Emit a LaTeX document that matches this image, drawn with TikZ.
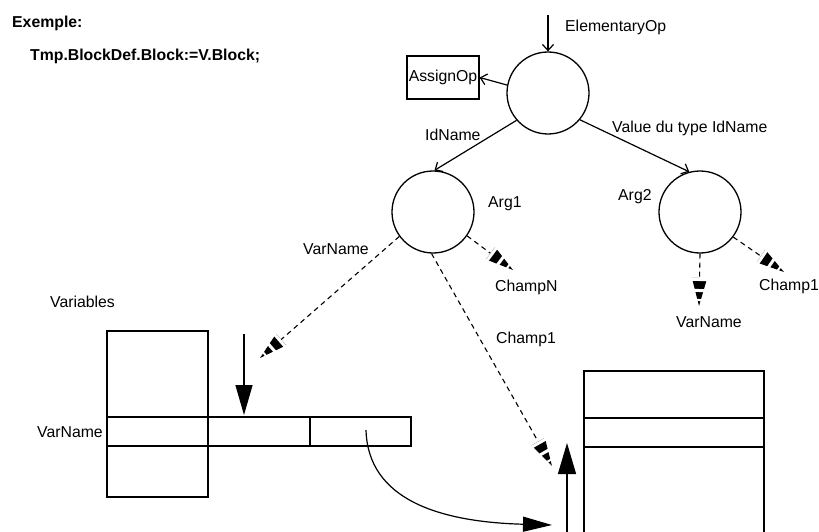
\documentclass[tikz,border=0pt]{standalone}
\usepackage{fontspec}
\setmainfont{Liberation Sans}
\usetikzlibrary{arrows.meta,calc}
\newcommand\stripetip[2]{\draw[white, line width=17pt, dash pattern=on 3pt off 8pt on 3pt off 7pt on 2pt off 12pt] ($(#2)!28pt!(#1)$) -- (#2);}
\begin{document}
\begin{tikzpicture}[x=1pt,y=-1pt,
  every node/.style={font=\fontsize{15.8}{19}\selectfont},
  lbl/.style={inner sep=0pt, anchor=base west},
  boldlbl/.style={lbl, font=\fontsize{15.8}{19}\selectfont\bfseries},
  ln/.style={line width=1.2pt},
  circ/.style={draw, circle, line width=1.3pt, minimum size=82pt, inner sep=0pt},
  smallarrow/.style={ln, -{Straight Barb[length=6pt,width=11pt,line width=1.2pt]}},
  dasharrow/.style={line width=1.1pt, dash pattern=on 5pt off 4pt, -{Triangle[length=28pt,width=15pt]}},
  bigarrow/.style={line width=1.3pt, -{Triangle[length=30pt,width=17pt]}},
  sep/.style={line width=2pt},
]
\useasboundingbox[fill=white] (0,0) rectangle (819,532);

% texts
\node[boldlbl] (ex) at (12,28) {Exemple:};
\node[boldlbl] (stmt) at (30,61) {Tmp.BlockDef.Block:=V.Block;};

% tree
\node[circ] (top) at (548,93) {};
\node[circ] (arg1) at (433,212) {};
\node[circ] (arg2) at (700,212) {};
\node[draw, ln, minimum width=72pt, minimum height=43pt, inner sep=0pt] (assign) at (443,77.5) {AssignOp};

\node[lbl] (elemlbl) at (565,32) {ElementaryOp};
\node[lbl] (idlbl) at (425,140) {IdName};
\node[lbl] (vallbl) at (612,133) {Value du type IdName};
\node[lbl] (arg1lbl) at (488,207) {Arg1};
\node[lbl] (arg2lbl) at (618,200) {Arg2};
\node[lbl] (champnlbl) at (495,291) {ChampN};
\node[lbl] (varnlbl2) at (676,327) {VarName};
\node[lbl] (champlbl2) at (759,290) {Champ1};
\node[lbl] (champlbl1) at (496,343) {Champ1};
\node[lbl] (varnlbl1) at (303,254) {VarName};
\node[lbl] (varslbl) at (50,307) {Variables};
\node[lbl] (varnlbl0) at (37,437) {VarName};

\coordinate (elemstart) at (548,15);
\draw[smallarrow] (elemstart) -- (top.north);
\draw[smallarrow] (top.169) -- (assign.east);
\draw[smallarrow] (top.221) -- (arg1.88);
\draw[smallarrow] (top.320) -- (arg2.105);

% dashed arrows
\coordinate (t1) at (260,358);
\coordinate (t2) at (513,270);
\coordinate (t3) at (552,466);
\coordinate (t4) at (699,306);
\coordinate (t5) at (784,272);
\draw[dasharrow] (arg1.216) -- (t1);
\draw[dasharrow] (arg1.325) -- (t2);
\draw[dasharrow] (arg1.268) -- (t3);
\draw[dasharrow] (arg2.270) -- (t4);
\draw[dasharrow] (arg2.323) -- (t5);
\stripetip{arg1.216}{t1}
\stripetip{arg1.325}{t2}
\stripetip{arg1.268}{t3}
\stripetip{arg2.270}{t4}
\stripetip{arg2.323}{t5}

% variables table
\draw[ln] (107,331) rectangle (208,497);
\draw[ln, fill=white] (107,417) rectangle (411,446);
\draw[sep] (208,417) -- (208,446);
\draw[sep] (310,417) -- (310,446);

% right block
\draw[ln] (584,532) -- (584,371) -- (764,371) -- (764,532);
\draw[ln] (584,418) -- (764,418);
\draw[ln] (584,447) -- (764,447);

% big arrows
\coordinate (d0) at (244,334);
\coordinate (d1) at (244,415);
\draw[bigarrow] (d0) -- (d1);
\coordinate (u0) at (567,532);
\coordinate (u1) at (567,443);
\draw[bigarrow, -{Triangle[length=31pt,width=18pt]}] (u0) -- (u1);
\coordinate (c0) at (366,430);
\coordinate (c1) at (552,525);
\draw[line width=1.2pt, -{Triangle[length=29pt,width=15pt]}] (c0) .. controls (368,500) and (440,522) .. (c1);
\end{tikzpicture}
\end{document}
